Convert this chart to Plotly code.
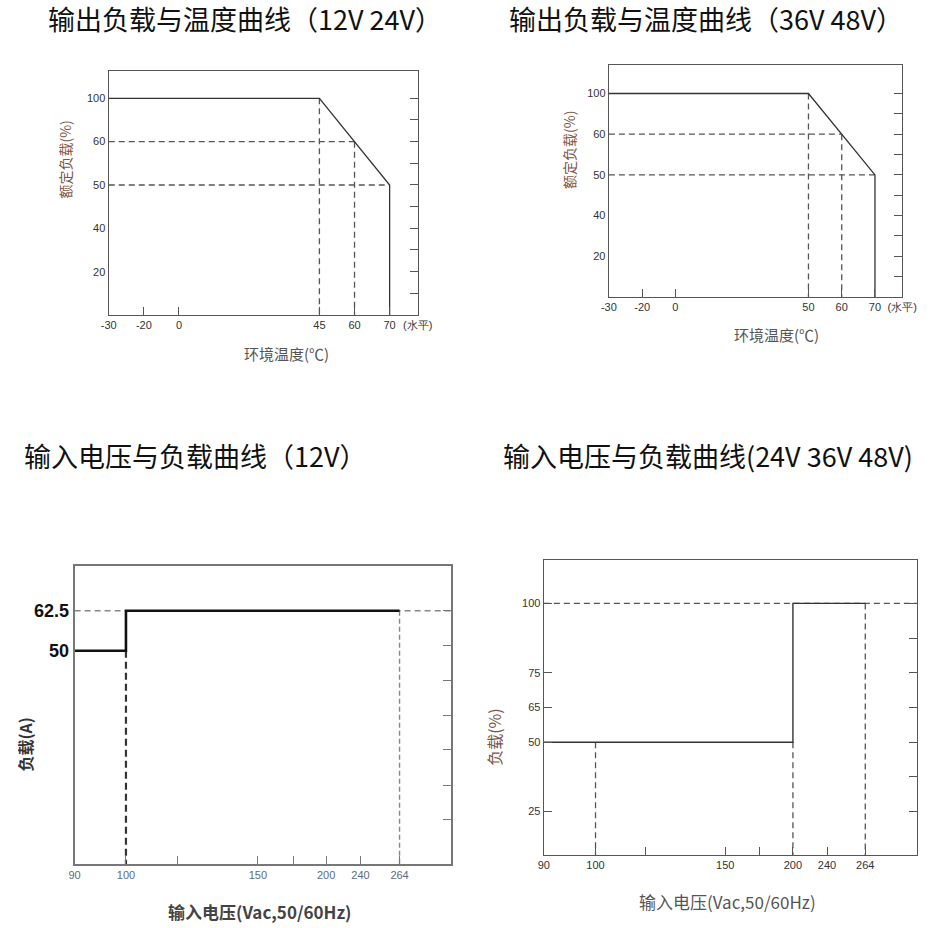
import numpy as np
import plotly.graph_objects as go

W, H = 939, 928

# ---------------- data ----------------
# Chart 1: output load vs temperature (12V 24V)
c1_temp = [-30, 45, 70, 70]
c1_load = [100, 100, 50, 0]
c1_guide_x = [[-30, 60], [-30, 70], [45, 45], [60, 60]]
c1_guide_y = [[60, 60], [50, 50], [100, 0], [60, 0]]
c1_xticks = [-30, -20, 0, 45, 60, 70]
c1_yticks = [20, 40, 50, 60, 100]

# Chart 2: output load vs temperature (36V 48V)
c2_temp = [-30, 50, 70, 70]
c2_load = [100, 100, 50, 0]
c2_guide_x = [[-30, 60], [-30, 70], [50, 50], [60, 60]]
c2_guide_y = [[60, 60], [50, 50], [100, 0], [60, 0]]
c2_xticks = [-30, -20, 0, 50, 60, 70]
c2_yticks = [20, 40, 50, 60, 100]

# Chart 3: input voltage vs load (12V)
c3_volt = [90, 100, 100, 264]
c3_load = [50, 50, 62.5, 62.5]
c3_xticks = [90, 100, 150, 200, 240, 264]
c3_yticks = [50, 62.5]

# Chart 4: input voltage vs load (24V 36V 48V)
c4_volt = [90, 200, 200, 264]
c4_load = [50, 50, 100, 100]
c4_xticks = [90, 100, 150, 200, 240, 264]
c4_yticks = [25, 50, 65, 75, 100]

titles = ["输出负载与温度曲线（12V 24V）", "输出负载与温度曲线（36V 48V）",
          "输入电压与负载曲线（12V）", "输入电压与负载曲线(24V 36V 48V)"]

# ---------------- axis scale layout (non-uniform printed scales) ----------------
c1_xslot = [0, 1, 2, 6, 7, 8]
c1_xrange = [0, 8.8]
c1_ymap_v = [0, 20, 40, 50, 60, 100]
c1_ymap_s = [0, 1, 2, 3, 4, 5]
c1_yrange = [0, 5.63]

c2_xslot = [0, 1, 2, 6, 7, 8]
c2_xrange = [0, 8.82]
c2_ymap_v = [0, 20, 40, 50, 60, 100]
c2_ymap_s = [0, 1, 2, 3, 4, 5]
c2_yrange = [0, 5.70]

c3_xslot = [0, 1.0, 3.57, 4.90, 5.57, 6.33]
c3_xminor = [2.0, 4.26]
c3_xrange = [0, 7.33]
c3_ymap_v = [0, 50, 62.5]
c3_ymap_s = [0, 6.09, 7.23]
c3_yrange = [0, 8.51]
c3_rticks = [1.26, 2.23, 3.26, 4.23, 5.23, 6.23, 7.23]

c4_xslot = [0, 1.0, 3.51, 4.82, 5.48, 6.22]
c4_xminor = [1.97, 4.17]
c4_xrange = [0, 7.23]
c4_ymap_v = [0, 25, 50, 65, 75, 100]
c4_ymap_s = [-1.25, 0, 2, 3, 4, 6]
c4_yrange = [-1.25, 7.25]
c4_rticks = [0, 1, 2, 3, 4, 5, 6]


def mx(vals, ticks, slots):
    return list(np.interp(vals, ticks, slots))


fig = go.Figure()

# pixel frames: left, right, top, bottom
frames = [(103.3, 420, 71, 315), (616, 916.7, 65, 297),
          (68.3, 454, 566, 864), (549.3, 932.3, 560, 855)]

DARK = "#333333"
GUIDE = "#555555"


def add_line(i, xs, ys, color, width, dash="solid"):
    fig.add_trace(go.Scatter(x=xs, y=ys, mode="lines", xaxis=f"x{i}", yaxis=f"y{i}",
                             line=dict(color=color, width=width, dash=dash),
                             hoverinfo="skip", showlegend=False))


# chart 1 & 2
for i, (temp, load, gx, gy, xt, xs, ymv, yms) in enumerate([
        (c1_temp, c1_load, c1_guide_x, c1_guide_y, c1_xticks, c1_xslot, c1_ymap_v, c1_ymap_s),
        (c2_temp, c2_load, c2_guide_x, c2_guide_y, c2_xticks, c2_xslot, c2_ymap_v, c2_ymap_s)], start=1):
    for sx, sy in zip(gx, gy):
        add_line(i, mx(sx, xt, xs), mx(sy, ymv, yms), GUIDE, 1.3, "6px,4px")
    add_line(i, mx(temp, xt, xs), mx(load, ymv, yms), DARK, 1.3)

# chart 3
add_line(3, mx([90, 264], c3_xticks, c3_xslot) + [c3_xrange[1]],
         mx([62.5, 62.5, 62.5], c3_ymap_v, c3_ymap_s), "#888888", 1.4, "6px,4px")
add_line(3, mx([100, 100], c3_xticks, c3_xslot), mx([50, 0], c3_ymap_v, c3_ymap_s),
         "#333333", 2.2, "7px,4px")
add_line(3, mx([264, 264], c3_xticks, c3_xslot), mx([62.5, 0], c3_ymap_v, c3_ymap_s),
         "#888888", 1.4, "5px,3px")
add_line(3, mx(c3_volt, c3_xticks, c3_xslot), mx(c3_load, c3_ymap_v, c3_ymap_s), "#111111", 2.6)

# chart 4
add_line(4, [c4_xrange[0], c4_xrange[1]], mx([100, 100], c4_ymap_v, c4_ymap_s), GUIDE, 1.4, "6px,4px")
for v, top in [(100, 50), (200, 50), (264, 100)]:
    add_line(4, mx([v, v], c4_xticks, c4_xslot), mx([top, 0], c4_ymap_v, c4_ymap_s), GUIDE, 1.3, "6px,4px")
add_line(4, mx(c4_volt, c4_xticks, c4_xslot), mx(c4_load, c4_ymap_v, c4_ymap_s), DARK, 1.4)

# invisible traces for right-side tick axes
for i in range(1, 5):
    fig.add_trace(go.Scatter(x=[None], y=[None], xaxis=f"x{i}", yaxis=f"y{i+4}",
                             showlegend=False, hoverinfo="skip"))

TICKFONT = dict(family="Liberation Sans", size=11, color="#333333")
layout = dict(width=W, height=H, margin=dict(l=0, r=0, t=0, b=0), autosize=False,
              paper_bgcolor="white", plot_bgcolor="white", showlegend=False)

specs = [
    dict(xt=c1_xticks, xs=c1_xslot, xminor=[], xr=c1_xrange, yt=c1_yticks,
         ys=mx(c1_yticks, c1_ymap_v, c1_ymap_s), yr=c1_yrange, rt=list(np.arange(0.5, 5.01, 0.5)),
         lt=False, frame="#555555", fw=1.4),
    dict(xt=c2_xticks, xs=c2_xslot, xminor=[], xr=c2_xrange, yt=c2_yticks,
         ys=mx(c2_yticks, c2_ymap_v, c2_ymap_s), yr=c2_yrange, rt=list(np.arange(0.5, 5.01, 0.5)),
         lt=False, frame="#555555", fw=1.4),
    dict(xt=c3_xticks, xs=c3_xslot, xminor=c3_xminor, xr=c3_xrange, yt=c3_yticks,
         ys=mx(c3_yticks, c3_ymap_v, c3_ymap_s), yr=c3_yrange, rt=c3_rticks,
         lt=False, frame="#777777", fw=2),
    dict(xt=c4_xticks, xs=c4_xslot, xminor=c4_xminor, xr=c4_xrange, yt=c4_yticks,
         ys=mx(c4_yticks, c4_ymap_v, c4_ymap_s), yr=c4_yrange, rt=c4_rticks,
         lt=True, frame="#555555", fw=1.4),
]

for i, (sp, (l, r, t, b)) in enumerate(zip(specs, frames), start=1):
    xdom = [l / W, r / W]
    ydom = [1 - b / H, 1 - t / H]
    xtv = list(sp["xs"]) + list(sp["xminor"])
    xtt = [str(v) for v in sp["xt"]] + [""] * len(sp["xminor"])
    if i <= 2:
        xtv.append(sp["xr"][1])
        xtt.append("(水平)")
    xfont = dict(TICKFONT)
    if i == 3:
        xfont = dict(family="Liberation Sans", size=11, color="#5a6b85")
    layout[f"xaxis{i}"] = dict(domain=xdom, anchor=f"y{i}", range=sp["xr"], tickmode="array",
                               tickvals=xtv, ticktext=xtt, ticks="inside", ticklen=8,
                               tickcolor=sp["frame"], tickwidth=1.3, showgrid=False,
                               zeroline=False, showline=True, linecolor=sp["frame"],
                               linewidth=sp["fw"], mirror=True, tickfont=xfont, fixedrange=True)
    yfont = dict(TICKFONT)
    ytt = [("%g" % v) for v in sp["yt"]]
    if i == 3:
        yfont = dict(family="Liberation Sans", size=18, color="#111111", weight="bold")
    layout[f"yaxis{i}"] = dict(domain=ydom, anchor=f"x{i}", range=sp["yr"], tickmode="array",
                               tickvals=sp["ys"], ticktext=ytt,
                               ticks="inside" if sp["lt"] else "", ticklen=8,
                               tickcolor=sp["frame"], tickwidth=1.3, showgrid=False,
                               zeroline=False, showline=True, linecolor=sp["frame"],
                               linewidth=sp["fw"], mirror=True, tickfont=yfont, fixedrange=True)
    layout[f"yaxis{i+4}"] = dict(overlaying=f"y{i}", anchor=f"x{i}", side="right",
                                 range=sp["yr"], tickmode="array", tickvals=sp["rt"],
                                 showticklabels=False, ticks="inside", ticklen=8,
                                 tickcolor=sp["frame"], tickwidth=1.3, showgrid=False,
                                 zeroline=False, showline=False, fixedrange=True)

fig.update_layout(**layout)

CJK = "Noto Sans CJK SC"
BROWN = "#7b5548"


def ann(text, x, y, size, color, angle=0, bold=False):
    fig.add_annotation(text=text, x=x / W, y=1 - y / H, xref="paper", yref="paper",
                       showarrow=False, textangle=angle, xanchor="center", yanchor="middle",
                       font=dict(family=CJK, size=size, color=color,
                                 weight="bold" if bold else "normal"))


# chart titles
ann(titles[0], 243, 19, 27, "#111111")
ann(titles[1], 716, 19, 27, "#111111")
ann(titles[2], 192, 455, 27, "#111111")
ann(titles[3], 718, 455, 27, "#111111")

# axis titles
ann("额定负载(%)", 58, 160, 14, BROWN, -90)
ann("环境温度(℃)", 285, 353, 15, "#555555")
ann("额定负载(%)", 575, 150, 14, BROWN, -90)
ann("环境温度(℃)", 788, 334, 15, "#555555")
ann("负载(A)", 17, 745, 16, "#333333", -90, True)
ann("输入电压(Vac,50/60Hz)", 258, 911, 17, "#444444", 0, True)
ann("负载(%)", 498, 737, 16, BROWN, -90)
ann("输入电压(Vac,50/60Hz)", 738, 901, 17, "#555555")

fig.write_html("out.html", config={"displayModeBar": False},
               post_script="document.body.style.margin='0px';document.body.style.overflow='hidden';")
